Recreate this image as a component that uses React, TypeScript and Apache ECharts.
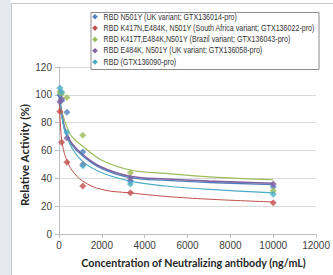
import React, { useEffect, useRef } from "react";
import * as echarts from "echarts";

const seriesNames = [
  "RBD N501Y (UK variant; GTX136014-pro)",
  "RBD K417N,E484K, N501Y (South Africa variant; GTX136022-pro)",
  "RBD K417T,E484K,N501Y (Brazil variant; GTX136043-pro)",
  "RBD E484K, N501Y (UK variant; GTX136058-pro)",
  "RBD (GTX136090-pro)",
];
const colors = ["#4F81BD", "#C0504D", "#9BBB59", "#8064A2", "#4BACC6"];

const pointX = [41, 123, 370, 1111, 3333, 10000];
const blueVals = [100, 96, 87.5, 59, 38, 34];
const redVals = [88, 66, 51.5, 34.5, 29.7, 22.5];
const greenVals = [102, 101, 98, 71, 44, 31];
const purpleVals = [95, 97, 69, 50, 40, 36];
const cyanVals = [105, 102, 73, 49, 36, 28.5];

const curveX = [0, 20, 60, 123, 250, 370, 600, 1111, 2000, 3333, 5000, 7000, 10000];
const blueCurve = [100, 98, 92, 86, 76, 71, 64, 56, 47, 40.5, 38.5, 37, 35.5];
const redCurve = [96, 92, 80, 68, 58, 53, 46, 38, 32, 29.5, 27, 25, 23];
const greenCurve = [103, 101, 96, 89, 82, 77, 70, 63, 53, 46, 43.5, 41, 39];
const purpleCurve = [100, 98, 93, 87, 77, 72, 65, 57, 48, 41.5, 39.5, 38, 36.5];
const cyanCurve = [104, 101, 94, 86, 75, 70, 62, 52, 44, 38, 34.5, 32, 29.5];

const pointSets = [blueVals, redVals, greenVals, purpleVals, cyanVals];
const curveSets = [blueCurve, redCurve, greenCurve, purpleCurve, cyanCurve];
const lineWidths = [1.4, 1, 1.2, 1.6, 1.2];

export default function App() {
  const ref = useRef<HTMLDivElement>(null);
  useEffect(() => {
    const chart = echarts.init(ref.current!, null, { renderer: "svg" });
    const series: any[] = [];
    curveSets.forEach((c, i) => {
      series.push({
        type: "line",
        name: seriesNames[i] + " fit",
        data: curveX.map((x, j) => [x, c[j]]),
        smooth: 0.4,
        showSymbol: false,
        lineStyle: { color: colors[i], width: lineWidths[i] },
        silent: true,
        z: 2,
      });
    });
    pointSets.forEach((p, i) => {
      series.push({
        type: "scatter",
        name: seriesNames[i],
        data: pointX.map((x, j) => [x, p[j]]),
        symbol: "diamond",
        symbolSize: 7,
        itemStyle: { color: colors[i] },
        z: 3,
      });
    });
    const legendItems: any[] = [];
    seriesNames.forEach((n, i) => {
      const cy = 16.8 + i * 11.3;
      legendItems.push({
        type: "polygon",
        z: 20,
        shape: { points: [[95, cy - 2.8], [97.8, cy], [95, cy + 2.8], [92.2, cy]] },
        style: { fill: colors[i] },
      });
      legendItems.push({
        type: "text",
        z: 20,
        x: 103.5,
        y: cy,
        scaleX: 0.79,
        style: { text: n, fontSize: 9, fontFamily: "Liberation Sans", fill: "#333333", verticalAlign: "middle", align: "left" },
      });
    });
    chart.setOption({
      animation: false,
      backgroundColor: "#ffffff",
      textStyle: { fontFamily: "Liberation Sans" },
      graphic: [
        { type: "rect", shape: { x: 0, y: 0, width: 11, height: 275 }, style: { fill: "#e6eaf0" }, silent: true },
        { type: "line", shape: { x1: 11.5, y1: 3, x2: 11.5, y2: 275 }, style: { stroke: "#c8c8c8", lineWidth: 1 } },
        { type: "line", shape: { x1: 11.5, y1: 3.5, x2: 333, y2: 3.5 }, style: { stroke: "#c8c8c8", lineWidth: 1 } },
        { type: "rect", shape: { x: 91, y: 12.5, width: 228, height: 57 }, style: { fill: "#ffffff", stroke: "#8c8c8c", lineWidth: 1 }, z: 10 },
        ...legendItems,
      ],
      grid: { left: 59, right: 15, top: 67, bottom: 41 },
      xAxis: {
        type: "value",
        min: 0,
        max: 12000,
        interval: 2000,
        name: "Concentration of Neutralizing antibody (ng/mL)",
        nameLocation: "middle",
        nameGap: 23,
        nameTextStyle: { fontSize: 10.7, fontWeight: "bold", color: "#262626", fontFamily: "Lato", padding: [0, 0, 0, 12] },
        axisLine: { lineStyle: { color: "#bfbfbf" } },
        axisTick: { show: true, length: 4, lineStyle: { color: "#bfbfbf" } },
        axisLabel: { fontSize: 10, color: "#404040", margin: 6, formatter: (v: number) => String(v) },
        splitLine: { show: false },
      },
      yAxis: {
        type: "value",
        min: 0,
        max: 120,
        interval: 20,
        name: "Relative Activity (%)",
        nameLocation: "middle",
        nameGap: 29,
        nameMoveOverlap: false,
        nameTextStyle: { fontSize: 11.5, fontWeight: "bold", color: "#262626", fontFamily: "Lato", padding: [0, 9, 0, 0] },
        axisLine: { show: true, lineStyle: { color: "#bfbfbf" } },
        axisTick: { show: true, length: 4, lineStyle: { color: "#bfbfbf" } },
        axisLabel: { fontSize: 10, color: "#404040", margin: 7 },
        splitLine: { lineStyle: { color: "#d9d9d9" } },
      },
      series,
    });
    return () => chart.dispose();
  }, []);
  return <div ref={ref} style={{ position: "absolute", left: 0, top: 0, width: 333, height: 275 }} />;
}
